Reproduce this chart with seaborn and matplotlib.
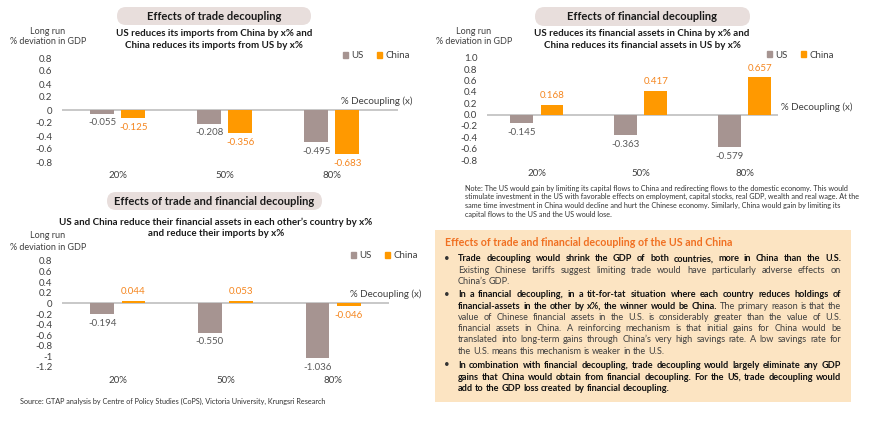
import matplotlib
matplotlib.use('Agg')
import pandas as pd
import matplotlib.pyplot as plt
import seaborn as sns
from matplotlib.patches import FancyBboxPatch, Rectangle, Patch

# ---- data ----
cats = ['20%', '50%', '80%']
trade_us = [-0.055, -0.208, -0.495]
trade_cn = [-0.125, -0.356, -0.683]
fin_us = [-0.145, -0.363, -0.579]
fin_cn = [0.168, 0.417, 0.657]
both_us = [-0.194, -0.550, -1.036]
both_cn = [0.044, 0.053, -0.046]

trade_ticks = [0.8, 0.6, 0.4, 0.2, 0, -0.2, -0.4, -0.6, -0.8]
trade_tick_labels = ['0.8', '0.6', '0.4', '0.2', '0', '-0.2', '-0.4', '-0.6', '-0.8']
fin_ticks = [1.0, 0.8, 0.6, 0.4, 0.2, 0.0, -0.2, -0.4, -0.6, -0.8]
fin_tick_labels = ['1.0', '0.8', '0.6', '0.4', '0.2', '0.0', '-0.2', '-0.4', '-0.6', '-0.8']
both_ticks = [0.8, 0.6, 0.4, 0.2, 0, -0.2, -0.4, -0.6, -0.8, -1, -1.2]
both_tick_labels = ['0.8', '0.6', '0.4', '0.2', '0', '-0.2', '-0.4', '-0.6', '-0.8', '-1', '-1.2']

US_C = '#A69491'
CN_C = '#FF9900'
US_LAB = '#595959'
CN_LAB = '#F5861F'
PILL = '#E8DEDC'
TXT = '#404040'

W, H = 870, 421
sns.set_style('white')
plt.rcParams['font.family'] = ['Lato', 'DejaVu Sans']

fig = plt.figure(figsize=(W / 100, H / 100), dpi=100)
bg = fig.add_axes([0, 0, 1, 1], zorder=-1)
bg.set_xlim(0, W)
bg.set_ylim(H, 0)
bg.axis('off')


def px_axes(x0, y0, x1, y1):
    ax = fig.add_axes([x0 / W, 1 - y1 / H, (x1 - x0) / W, (y1 - y0) / H])
    ax.patch.set_alpha(0)
    return ax


def pill(x0, x1, y0, y1, text):
    h = y1 - y0
    bg.add_patch(FancyBboxPatch((x0, y0), x1 - x0, h,
                                boxstyle=f'round,pad=0,rounding_size={h / 2}',
                                fc=PILL, ec='none'))
    bg.text((x0 + x1) / 2, (y0 + y1) / 2 + 0.5, text, ha='center', va='center',
            fontsize=8, fontweight='bold', color='#1a1a1a')


def panel(box, us, cn, ticks, tick_labels, xlim, ylim, legend_xy, dec_xy):
    ax = px_axes(*box)
    df = pd.DataFrame({'pct': cats * 2, 'val': us + cn,
                       'country': ['US'] * 3 + ['China'] * 3})
    sns.barplot(data=df, x='pct', y='val', hue='country', hue_order=['US', 'China'],
                palette={'US': US_C, 'China': CN_C}, saturation=1, width=0.58, gap=0.24,
                linewidth=0, legend=False, ax=ax)
    ax.axhline(0, color='#BFBFBF', lw=1.2, zorder=0.5)
    for c, col in zip(ax.containers, [US_LAB, CN_LAB]):
        ax.bar_label(c, fmt='%.3f', padding=3.5, fontsize=7, color=col)
    ax.set_xlim(*xlim)
    ax.set_ylim(*ylim)
    ax.set_yticks(ticks)
    ax.set_yticklabels(tick_labels)
    ax.set_xlabel('')
    ax.set_ylabel('')
    ax.tick_params(axis='y', length=0, pad=7, labelsize=7, labelcolor=TXT)
    ax.tick_params(axis='x', length=0, pad=6.5, labelsize=7, labelcolor=TXT)
    for s in ax.spines.values():
        s.set_visible(False)
    ax.legend(handles=[Patch(color=US_C, label='US'), Patch(color=CN_C, label='China')],
              loc='center left', bbox_to_anchor=(legend_xy[0] / W, 1 - legend_xy[1] / H),
              bbox_transform=fig.transFigure, ncol=2, frameon=False, fontsize=7,
              handlelength=0.55, handleheight=0.55, handletextpad=0.35,
              columnspacing=1.3, borderpad=0, borderaxespad=0, labelcolor=TXT)
    bg.text(dec_xy[0], dec_xy[1], '% Decoupling (x)', ha='right', va='center',
            fontsize=7, color=TXT)
    return ax


def ylab(cx, y):
    bg.text(cx, y, 'Long run', ha='center', va='center', fontsize=6.5, color=TXT)
    bg.text(cx, y + 11, '% deviation in GDP', ha='center', va='center', fontsize=6.5, color=TXT)


# ---- panel 1: trade ----
pill(117, 311, 7, 25, 'Effects of trade decoupling')
bg.text(214, 34, 'US reduces its imports from China by x% and', ha='center', va='center',
        fontsize=7, fontweight='bold', color='#1a1a1a')
bg.text(214, 45, 'China reduces its imports from US by x%', ha='center', va='center',
        fontsize=7, fontweight='bold', color='#1a1a1a')
ylab(48, 31)
panel((62, 58, 398, 162), trade_us, trade_cn, trade_ticks, trade_tick_labels,
      (-0.52, 2.62), (-0.8, 0.8), (343, 56), (413, 101))

# ---- panel 2: financial ----
pill(535, 750, 7, 26, 'Effects of financial decoupling')
bg.text(642, 34, 'US reduces its financial assets in China by x% and', ha='center', va='center',
        fontsize=7, fontweight='bold', color='#1a1a1a')
bg.text(642, 45, 'China reduces its financial assets in US by x%', ha='center', va='center',
        fontsize=7, fontweight='bold', color='#1a1a1a')
ylab(474, 31)
panel((487, 58, 778, 160), fin_us, fin_cn, fin_ticks, fin_tick_labels,
      (-0.48, 2.32), (-0.8, 1.0), (767, 55), (853, 107))

note = ['Note: The US would gain by limiting its capital flows to China and redirecting flows to the domestic economy. This would',
        'stimulate investment in the US with favorable effects on employment, capital stocks, real GDP, wealth and real wage. At the',
        'same time investment in China would decline and hurt the Chinese economy. Similarly, China would gain by limiting its',
        'capital flows to the US and the US would lose.']
for i, line in enumerate(note):
    bg.text(465, 188 + i * 8.8, line, ha='left', va='center', fontsize=5.2, color='#333333')

# ---- panel 3: trade and financial ----
pill(107, 322, 192, 210, 'Effects of trade and financial decoupling')
bg.text(216, 222, 'US and China reduce their financial assets in each other\u2019s country by x%',
        ha='center', va='center', fontsize=7, fontweight='bold', color='#1a1a1a')
bg.text(216, 233, 'and reduce their imports by x%', ha='center', va='center',
        fontsize=7, fontweight='bold', color='#1a1a1a')
ylab(48, 236)
panel((62, 261, 389, 367), both_us, both_cn, both_ticks, both_tick_labels,
      (-0.52, 2.52), (-1.2, 0.8), (351, 256), (422, 294))

bg.text(20, 401, 'Source: GTAP analysis by Centre of Policy Studies (CoPS), Victoria University, Krungsri Research',
        ha='left', va='center', fontsize=5.2, color='#333333')

# ---- summary box ----
bg.add_patch(Rectangle((435, 230), 416, 172, fc='#FCE4C2', ec='none'))
bg.text(445, 243, 'Effects of trade and financial decoupling of the US and China', ha='left',
        va='center', fontsize=7.7, fontweight='bold', color='#F07022')

renderer = fig.canvas.get_renderer()


def line_text(y, segments, just=True, x0=458, x1=841, size=6.6):
    # words placed one by one so the line can be justified like the source
    base = y + size * 100 / 72 * 0.36
    items = []
    for txt, wt in segments:
        for w in txt.split():
            a = bg.text(0, base, w, ha='left', va='baseline', fontsize=size, fontweight=wt,
                        color='#111111' if wt == 'bold' else TXT)
            items.append(a)
    widths = [a.get_window_extent(renderer).width for a in items]
    if just and len(items) > 1:
        gap = (x1 - x0 - sum(widths)) / (len(items) - 1)
    else:
        gap = size * 100 / 72 * 0.24
    x = x0
    for a, w in zip(items, widths):
        a.set_x(x)
        x += w + gap


B, R = 'bold', 'normal'
bullets = [
    (258, [
        ([('Trade decoupling would shrink the GDP of both countries, more in China than the U.S.', B)], True),
        ([('Existing Chinese tariffs suggest limiting trade would have particularly adverse effects on', R)], True),
        ([('China\u2019s GDP.', R)], False),
    ]),
    (294, [
        ([('In a financial decoupling, in a tit-for-tat situation where each country reduces holdings of', B)], True),
        ([('financial-assets in the other by x%, the winner would be China.', B), ('The primary reason is that the', R)], True),
        ([('value of Chinese financial assets in the U.S. is considerably greater than the value of U.S.', R)], True),
        ([('financial assets in China. A reinforcing mechanism is that initial gains for China would be', R)], True),
        ([('translated into long-term gains through China\u2019s very high savings rate. A low savings rate for', R)], True),
        ([('the U.S. means this mechanism is weaker in the U.S.', R)], False),
    ]),
    (365, [
        ([('In combination with financial decoupling, trade decoupling would largely eliminate any GDP', B)], True),
        ([('gains that China would obtain from financial decoupling. For the US, trade decoupling would', B)], True),
        ([('add to the GDP loss created by financial decoupling.', B)], False),
    ]),
]
for y0, lines in bullets:
    bg.text(447, y0, '\u2022', ha='center', va='center', fontsize=7, color='#333333')
    for i, (segs, just) in enumerate(lines):
        line_text(y0 + i * 11.3, segs, just)

fig.savefig('out.png', dpi=100)
